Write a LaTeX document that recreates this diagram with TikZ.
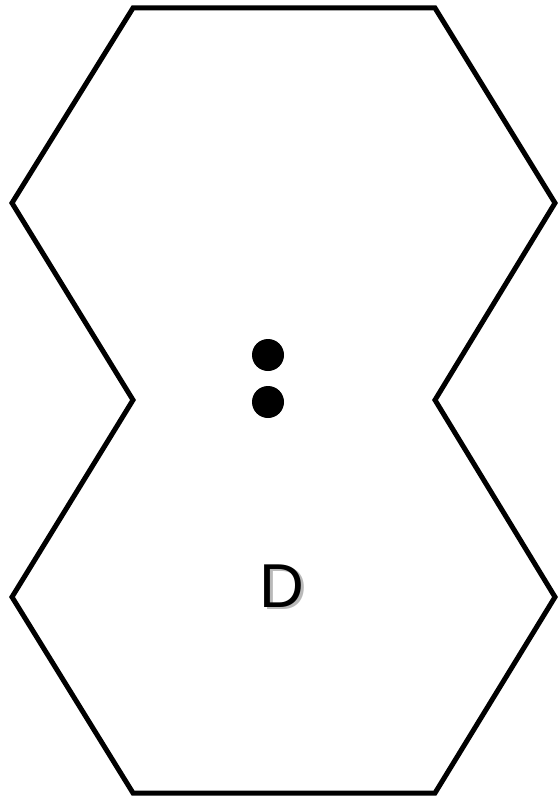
\documentclass[tikz,border=0pt]{standalone}
\usepackage{fontspec}
\setmainfont{Liberation Sans}
\usepackage{xcolor}
\usepackage{tikz}
\usetikzlibrary{positioning}
\definecolor{ink}{RGB}{0,0,0}
\definecolor{shade}{RGB}{185,185,185}
\newcommand{\shadowed}[1]{\rlap{\kern2.5pt\raisebox{-2.5pt}{\textcolor{shade}{#1}}}#1}
\tikzset{
  outline/.style={line width=5pt,ink,line join=miter},
  dot/.style={circle,fill=ink,inner sep=0pt,minimum size=32pt},
  letter/.style={font=\fontsize{62}{62}\selectfont,text=ink,inner sep=0pt}
}
\begin{document}
\begin{tikzpicture}[x=1pt,y=-1pt]
  \useasboundingbox (0,0) rectangle (558,797);
  % fused hexagons
  \coordinate (tl) at (133,8);
  \coordinate (tr) at (435,8);
  \coordinate (ru) at (555,203);
  \coordinate (rw) at (435,400);
  \coordinate (rl) at (555,597);
  \coordinate (br) at (435,793);
  \coordinate (bl) at (133,793);
  \coordinate (ll) at (12,597);
  \coordinate (lw) at (133,400);
  \coordinate (lu) at (12,203);
  \draw[outline] (tl)--(tr)--(ru)--(rw)--(rl)--(br)--(bl)--(ll)--(lw)--(lu)--cycle;
  % colon
  \node[dot] (upper) at (268,355) {};
  \node[dot] (lower) at (268,402) {};
  % label
  \node[letter] (d) at (282,587) {\shadowed{D}};
\end{tikzpicture}
\end{document}
